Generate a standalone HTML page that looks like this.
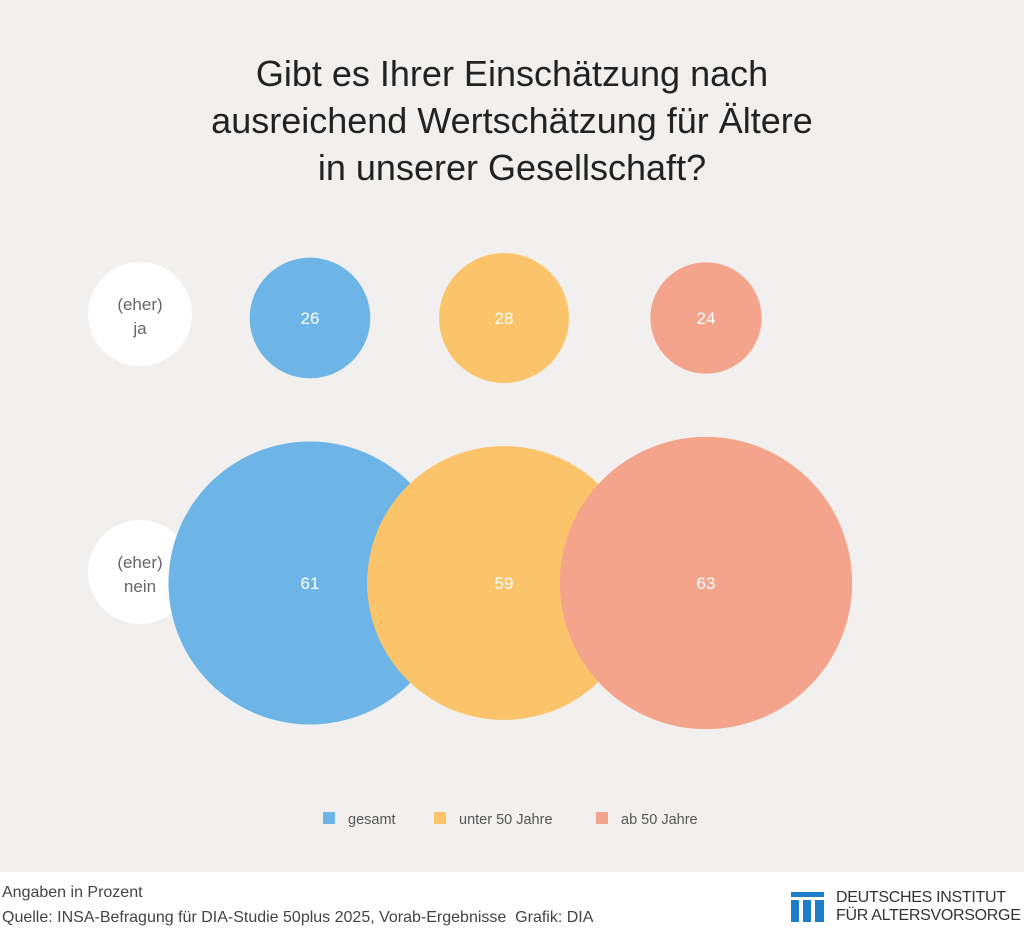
<!DOCTYPE html>
<html><head><meta charset="utf-8"><style>
html,body{margin:0;width:1024px;height:929px;overflow:hidden}
body{background:#f2f0ee;font-family:"Liberation Sans",sans-serif;position:relative}
#title{position:absolute;top:50px;left:0;width:1024px;text-align:center;font-size:36px;line-height:47px;color:#222}
#footer{position:absolute;top:872px;left:0;width:1024px;height:57px;background:#fff}
.ft{position:absolute;left:2px;font-size:16px;color:#444;white-space:nowrap}
</style></head><body>
<div id="title">Gibt es Ihrer Einschätzung nach<br>ausreichend Wertschätzung für Ältere<br>in unserer Gesellschaft?</div>
<svg id="chart" width="1024" height="870" style="position:absolute;top:0;left:0" font-family="Liberation Sans, sans-serif"></svg>
<div id="footer">
<div class="ft" style="top:12px">Angaben in Prozent</div>
<div class="ft" style="top:37px">Quelle: INSA-Befragung für DIA-Studie 50plus 2025, Vorab-Ergebnisse&nbsp; Grafik: DIA</div>
<svg style="position:absolute;left:790px;top:19px" width="36" height="32">
<rect x="1" y="1" width="33" height="5" fill="#1e7dc8"/><rect x="1" y="9" width="8" height="22" fill="#1e7dc8"/><rect x="13" y="9" width="8" height="22" fill="#1e7dc8"/><rect x="25" y="9" width="9" height="22" fill="#1e7dc8"/></svg>
<div style="position:absolute;left:836px;top:17px;font-size:16px;line-height:18px;color:#333;white-space:nowrap;letter-spacing:-0.3px">DEUTSCHES INSTITUT<br>FÜR ALTERSVORSORGE</div>
</div>
<script>
const groups=["gesamt","unter 50 Jahre","ab 50 Jahre"];
const rows=["(eher) ja","(eher) nein"];
const jaValues=[26,28,24];
const neinValues=[61,59,63];
const colors=["#6cb5e6","#fbc46a","#f4a48a"];
const svg=document.getElementById('chart');
const NS="http://www.w3.org/2000/svg";
const xPos=i=>310+i*198-(i===1?4:0);
const rowY=[318,583];
const rScale=v=>2.32*v;
function mk(t,a){const e=document.createElementNS(NS,t);for(const k in a)e.setAttribute(k,a[k]);svg.appendChild(e);return e;}
rows.forEach((r,ri)=>{
  const cy=ri===0?314:572;
  const c=mk('circle',{cx:140,cy:cy,r:52,fill:'#fff'});
  
  
  const parts=r.split(' ');
  parts.forEach((p,pi)=>{
    const t=mk('text',{x:140,y:cy-4+pi*24,'text-anchor':'middle','font-size':17,fill:'#666'});
    t.textContent=p;
    
    
  });
});
[jaValues,neinValues].forEach((vals,ri)=>{
  vals.forEach((v,i)=>{
    const c=mk('circle',{cx:xPos(i),cy:rowY[ri],r:rScale(v),fill:colors[i]});
    
    
    const t=mk('text',{x:xPos(i),y:rowY[ri]+6,'text-anchor':'middle','font-size':17,fill:'#fff'});
    t.textContent=v;
    
    
  });
});
const legX=[323,434,596];
groups.forEach((g,i)=>{
  const s=mk('rect',{x:legX[i],y:812,width:12,height:12,fill:colors[i]});
  
  
  const t=mk('text',{x:legX[i]+25,y:824,'font-size':14.5,fill:'#555'});
  t.textContent=g;
  
  
});
</script>
</body></html>
